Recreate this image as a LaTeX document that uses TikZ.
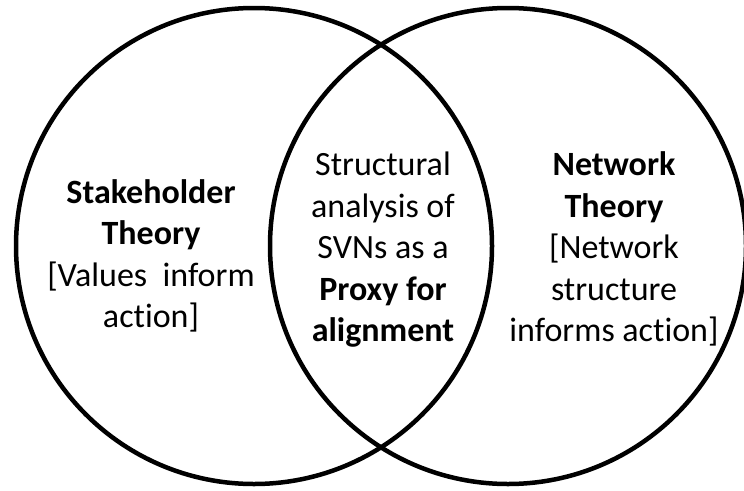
\documentclass[tikz,border=0pt]{standalone}
\usepackage{fontspec}
\setmainfont[RawFeature=-liga]{Carlito}
\begin{document}
\begin{tikzpicture}[x=1pt,y=-1pt,
  ring/.style={circle,draw=black,line width=4.5pt,minimum size=476pt,inner sep=0pt},
  label/.style={align=center,font=\fontsize{34}{41.5}\selectfont,inner sep=0pt}]
\useasboundingbox[fill=white] (0,0) rectangle (744,490);
% the two overlapping sets
\node[ring] (left)  at (254,246) {};
\node[ring] (right) at (508,246) {};
% texts of the three regions
\node[label] (lefttext) at (151,256)
  {\textbf{Stakeholder}\\\textbf{Theory}\\{}[Values\ \ inform\\action]};
\node[label] (midtext) at (383,250)
  {Structural\\analysis of\\SVNs as a\\\textbf{Proxy for}\\\textbf{alignment}};
\node[label] (righttext) at (614,249)
  {\textbf{Network}\\\textbf{Theory}\\{}[Network\\structure\\informs action]};
\end{tikzpicture}
\end{document}
